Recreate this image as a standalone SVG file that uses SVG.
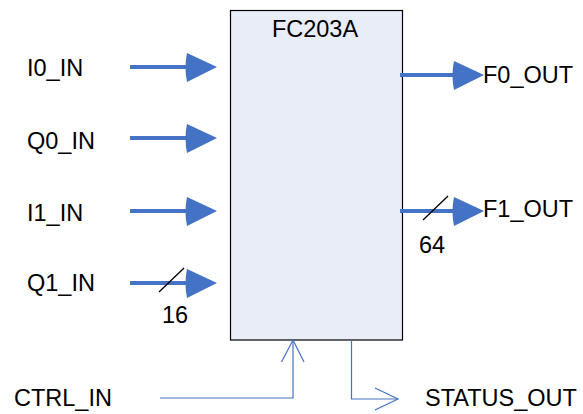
<svg xmlns="http://www.w3.org/2000/svg" width="583" height="414" viewBox="0 0 583 414">
<style>
text{font-family:"Liberation Sans",Arial,sans-serif;font-size:23.5px;fill:#000}
.bus{stroke:#4472C4;stroke-width:4;fill:none}
.head{fill:#4472C4;stroke:none}
.thin{stroke:#4472C4;stroke-width:1.2;fill:none}
.slash{stroke:#000;stroke-width:1.3}
</style>
<defs>
<path id="ah" d="M0,0 L-30,-14 Q-33,0 -30,15 Z"/>
</defs>
<g id="block">
<rect x="230.5" y="10.5" width="172" height="329.5" fill="#E9EDF7" stroke="#000" stroke-width="1.2"/>
<text x="315" y="37" text-anchor="middle">FC203A</text>
</g>
<g id="inputs">
<text x="27" y="76">I0_IN</text>
<text x="27" y="149">Q0_IN</text>
<text x="27" y="221">I1_IN</text>
<text x="27" y="291">Q1_IN</text>
<text x="14" y="406">CTRL_IN</text>
</g>
<g id="outputs">
<text x="483" y="83">F0_OUT</text>
<text x="483" y="217">F1_OUT</text>
<text x="425" y="406">STATUS_OUT</text>
</g>
<g id="connectors">
<line class="bus" x1="130" y1="67" x2="190" y2="67"/>
<use href="#ah" class="head" transform="translate(217,67)"/>
<line class="bus" x1="130" y1="138" x2="190" y2="138"/>
<use href="#ah" class="head" transform="translate(217,138)"/>
<line class="bus" x1="130" y1="211" x2="190" y2="211"/>
<use href="#ah" class="head" transform="translate(217,211)"/>
<line class="bus" x1="130" y1="283" x2="190" y2="283"/>
<use href="#ah" class="head" transform="translate(217,283)"/>
<line class="slash" x1="159" y1="292" x2="184" y2="268"/>
<text x="175" y="323" text-anchor="middle">16</text>
<line class="bus" x1="400" y1="75" x2="458" y2="75"/>
<use href="#ah" class="head" transform="translate(484,75)"/>
<line class="bus" x1="400" y1="211" x2="458" y2="211"/>
<use href="#ah" class="head" transform="translate(484,211)"/>
<line class="slash" x1="423" y1="220" x2="448" y2="196"/>
<text x="432" y="253" text-anchor="middle">64</text>
<polyline class="thin" points="160,398 293,398 293,340"/>
<polyline class="thin" points="281.5,362 293,340 304,362"/>
<polyline class="thin" points="351.5,340 351.5,399 398,399"/>
<polyline class="thin" points="375,388 398,399 375,410"/>
</g>
</svg>
